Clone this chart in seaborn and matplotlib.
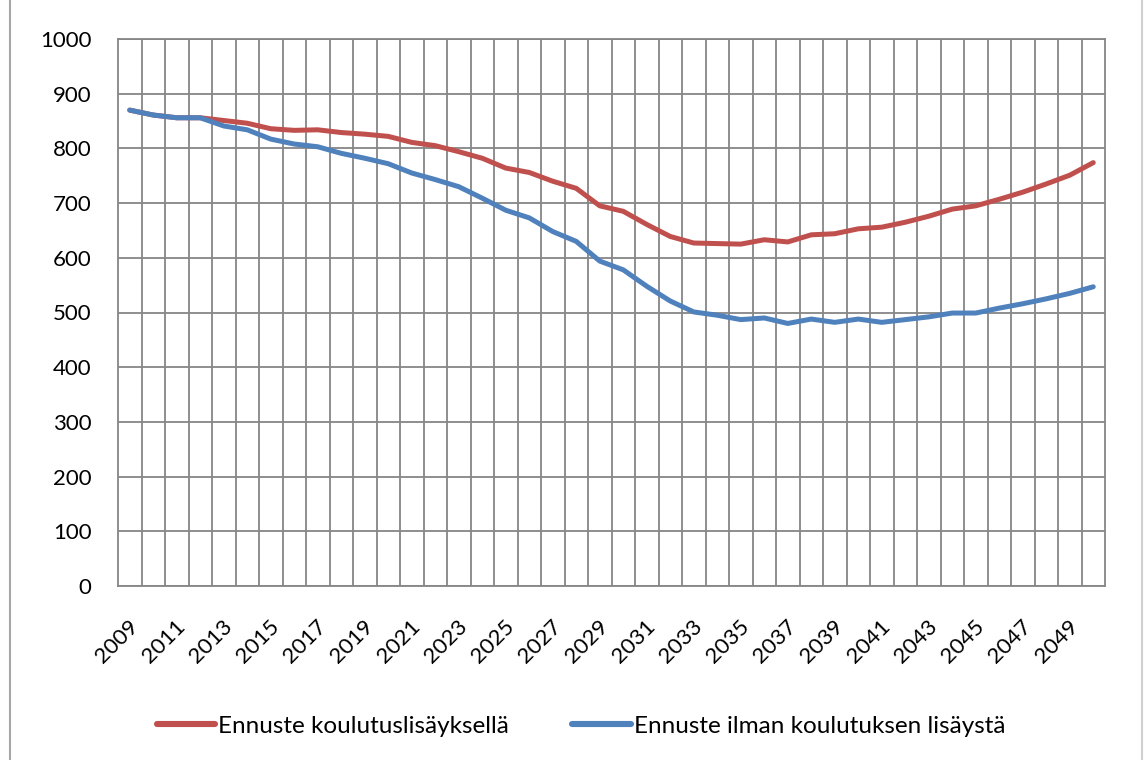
import numpy as np
import pandas as pd
import matplotlib
matplotlib.use("Agg")
import matplotlib.pyplot as plt
from matplotlib.lines import Line2D
import matplotlib.transforms as mtransforms
import seaborn as sns

years = list(range(2009, 2051))
with_training = [870, 861, 856, 856, 851, 846, 836, 833, 834, 829, 826, 822, 811, 805,
                 794, 782, 764, 756, 740, 727, 695, 685, 661, 639, 627, 626, 625, 633,
                 629, 642, 644, 653, 656, 665, 676, 689, 695, 707, 720, 735, 751, 774]
without_training = [870, 861, 856, 856, 841, 834, 817, 808, 803, 791, 782, 772, 755, 743,
                    730, 709, 687, 673, 648, 630, 594, 578, 548, 521, 501, 495, 487, 490,
                    480, 488, 482, 488, 482, 487, 492, 499, 499, 508, 516, 525, 535, 547]
series_names = ["Ennuste koulutuslisäyksellä", "Ennuste ilman koulutuksen lisäystä"]
y_ticks = list(range(0, 1001, 100))
x_label_years = list(range(2009, 2050, 2))

df = pd.DataFrame({
    "year": years * 2,
    "value": with_training + without_training,
    "series": [series_names[0]] * len(years) + [series_names[1]] * len(years),
})

sns.set_style("white")
plt.rcParams["font.family"] = ["Lato", "DejaVu Sans"]

FS = 16
FS_LEG = 17.5
grid_col = "#868686"
red = "#C0504D"
blue = "#4F81BD"
txt_col = "#000000"

fig = plt.figure(figsize=(11.44, 7.6), dpi=100)
ax = fig.add_axes([118 / 1144, 1 - 586 / 760, (1105 - 118) / 1144, (586 - 39) / 760])

sns.lineplot(data=df, x="year", y="value", hue="series", palette=[red, blue],
             linewidth=3.6, ax=ax, legend=False, solid_capstyle="round",
             solid_joinstyle="round")

ax.set_xlim(years[0] - 0.5, years[-1] + 0.5)
ax.set_ylim(0, 1000)
ax.set_yticks(y_ticks)
ax.set_yticklabels([str(v) for v in y_ticks], fontsize=FS, color=txt_col)
ax.set_xticks(x_label_years)
ax.set_xticklabels([str(v) for v in x_label_years], fontsize=FS, rotation=45,
                   ha="right", va="top", rotation_mode="anchor", color=txt_col)
ax.set_xticks([y - 0.5 for y in years[1:]], minor=True)
ax.tick_params(axis="x", which="major", length=0, pad=22)
ax.tick_params(axis="x", which="minor", length=0)
ax.tick_params(axis="y", length=0, pad=19)
offset = mtransforms.ScaledTranslation(-2 / 100, 0, fig.dpi_scale_trans)
for lab in ax.get_xticklabels():
    lab.set_transform(lab.get_transform() + offset)

ax.grid(False)
ax.grid(True, axis="x", which="minor", color=grid_col, linewidth=1.3)
ax.grid(True, axis="y", which="major", color=grid_col, linewidth=1.3)
for s in ax.spines.values():
    s.set_visible(True)
    s.set_color(grid_col)
    s.set_linewidth(1.3)
ax.set_xlabel("")
ax.set_ylabel("")

handles = [Line2D([0], [0], color=red, linewidth=4.4, solid_capstyle="round"),
           Line2D([0], [0], color=blue, linewidth=4.4, solid_capstyle="round")]
fig.legend(handles, series_names, loc="center", bbox_to_anchor=(581 / 1144, 1 - 726 / 760),
           ncol=2, frameon=False, fontsize=FS_LEG, handlelength=2.4, handletextpad=0.12,
           columnspacing=2.6, labelcolor=txt_col)

# chart area border
fig.add_artist(Line2D([10 / 1144, 10 / 1144], [0, 1], transform=fig.transFigure,
                      color="#a6a6a6", linewidth=1.5))
fig.add_artist(Line2D([1142 / 1144, 1142 / 1144], [0, 1], transform=fig.transFigure,
                      color="#d0d0d0", linewidth=1.5))

fig.savefig("out.png", dpi=100)
